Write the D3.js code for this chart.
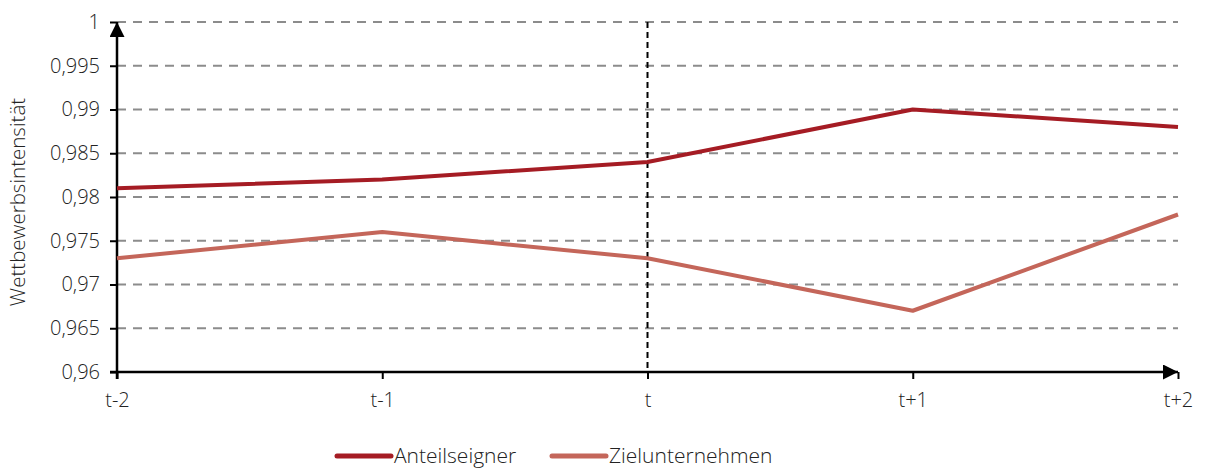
<!DOCTYPE html>
<html>
<head>
<meta charset="utf-8">
<script src="https://cdn.jsdelivr.net/npm/d3@7"></script>
<style>
  body { margin: 0; background: #fff; }
  svg text { font-family: "Open Sans", sans-serif; font-weight: 300; fill: #222; }
</style>
</head>
<body>
<div id="chart"></div>
<script>
// Data
const periods = ['t-2', 't-1', 't', 't+1', 't+2'];
const anteilseigner = [0.981, 0.982, 0.984, 0.990, 0.988];
const zielunternehmen = [0.973, 0.976, 0.973, 0.967, 0.978];
const yTicks = [0.96, 0.965, 0.97, 0.975, 0.98, 0.985, 0.99, 0.995, 1];
const seriesNames = ['Anteilseigner', 'Zielunternehmen'];
const seriesColors = ['#A51C24', '#C4665A'];

const width = 1205, height = 468;
const margin = { left: 117, right: 27, top: 22, bottom: 96 };

const svg = d3.select('#chart').append('svg')
    .attr('width', width)
    .attr('height', height);

const x = d3.scalePoint()
    .domain(periods)
    .range([margin.left, width - margin.right]);

const y = d3.scaleLinear()
    .domain([0.96, 1])
    .range([height - margin.bottom, margin.top]);

const fmt = v => d3.format('~g')(v).replace('.', ',');

// Dashed gridlines
svg.append('g')
    .selectAll('line')
    .data(yTicks.slice(1))
    .enter()
    .append('line')
    .attr('x1', margin.left)
    .attr('x2', width - margin.right)
    .attr('y1', d => y(d))
    .attr('y2', d => y(d))
    .attr('stroke', '#8c8c8c')
    .attr('stroke-width', 2)
    .attr('stroke-dasharray', '9,7');

// Vertical marker at t
svg.append('line')
    .attr('x1', x('t')).attr('x2', x('t'))
    .attr('y1', margin.top).attr('y2', y(0.96))
    .attr('stroke', '#000')
    .attr('stroke-width', 2)
    .attr('stroke-dasharray', '6,4');

// Arrow marker
svg.append('defs').append('marker')
    .attr('id', 'arrow')
    .attr('viewBox', '0 0 10 10')
    .attr('refX', 10).attr('refY', 5)
    .attr('markerWidth', 6).attr('markerHeight', 6)
    .attr('markerUnits', 'strokeWidth')
    .attr('orient', 'auto')
    .append('path')
    .attr('d', 'M0,0L10,5L0,10Z')
    .attr('fill', '#000');

// Y axis
const yAxis = svg.append('g')
    .attr('transform', `translate(${margin.left},0)`)
    .call(d3.axisLeft(y).tickValues(yTicks).tickFormat(fmt).tickSize(7).tickPadding(10));
yAxis.select('.domain').remove();
yAxis.selectAll('.tick line').attr('stroke', '#000').attr('stroke-width', 2);
yAxis.selectAll('.tick text').style('font-size', '20px').attr('fill', '#222');

svg.append('line')
    .attr('x1', margin.left).attr('x2', margin.left)
    .attr('y1', y(0.96) + 7).attr('y2', margin.top)
    .attr('stroke', '#000').attr('stroke-width', 2.5)
    .attr('marker-end', 'url(#arrow)');

// X axis
const xAxis = svg.append('g')
    .attr('transform', `translate(0,${y(0.96)})`)
    .call(d3.axisBottom(x).tickSize(7).tickPadding(14));
xAxis.select('.domain').remove();
xAxis.selectAll('.tick line').attr('stroke', '#000').attr('stroke-width', 2);
xAxis.selectAll('.tick text').style('font-size', '20px').attr('fill', '#222');

svg.append('line')
    .attr('x1', margin.left - 7).attr('x2', width - margin.right)
    .attr('y1', y(0.96)).attr('y2', y(0.96))
    .attr('stroke', '#000').attr('stroke-width', 2.5)
    .attr('marker-end', 'url(#arrow)');

// Y axis title
svg.append('text')
    .attr('transform', `translate(25,${(margin.top + y(0.96)) / 2 + 5}) rotate(-90)`)
    .attr('text-anchor', 'middle')
    .style('font-size', '20.5px')
    .text('Wettbewerbsintensität');

// Lines
const line = d3.line()
    .x((d, i) => x(periods[i]))
    .y(d => y(d));

[anteilseigner, zielunternehmen].forEach((s, i) => {
    svg.append('path')
        .datum(s)
        .attr('fill', 'none')
        .attr('stroke', seriesColors[i])
        .attr('stroke-width', 4)
        .attr('stroke-linejoin', 'round')
        .attr('d', line);
});

// Legend
const legendX = [337, 552];
seriesNames.forEach((name, i) => {
    const lg = svg.append('g').attr('transform', `translate(${legendX[i]},456)`);
    lg.append('line')
        .attr('x1', 0).attr('x2', 54)
        .attr('stroke', seriesColors[i])
        .attr('stroke-width', 5)
        .attr('stroke-linecap', 'round');
    lg.append('text')
        .attr('x', 57)
        .attr('dy', '0.35em')
        .style('font-size', '21px')
        .text(name);
});
</script>
</body>
</html>
